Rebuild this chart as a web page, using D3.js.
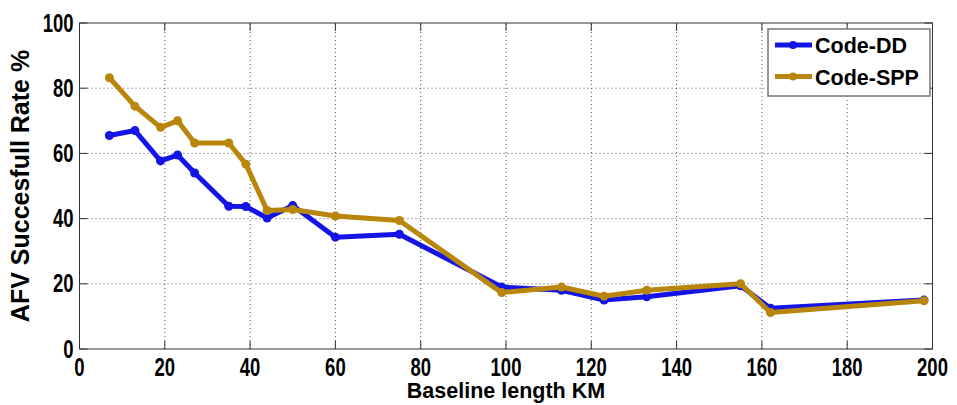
<!DOCTYPE html>
<html>
<head>
<meta charset="utf-8">
<script src="https://cdn.jsdelivr.net/npm/d3@7"></script>
<style>
body { margin: 0; background: #fff; }
svg { display: block; }
.tick-lbl { font-family: "Liberation Sans", Arial, sans-serif; font-weight: bold; font-size: 25px; }
.title { font-family: "Liberation Sans", Arial, sans-serif; font-weight: bold; }
</style>
</head>
<body>
<svg id="chart" width="957" height="405"></svg>
<script>
// values
var baseline = [7, 13, 19, 23, 27, 35, 39, 44, 50, 60, 75, 99, 113, 123, 133, 155, 162, 198];
var codeDD   = [65.5, 67, 57.7, 59.5, 54, 43.8, 43.7, 40.2, 44, 34.3, 35.2, 19, 18, 15, 16, 19.4, 12.5, 15];
var codeSPP  = [83.2, 74.5, 68, 70, 63.2, 63.2, 56.7, 42.5, 42.8, 40.8, 39.4, 17.3, 19, 16.2, 18, 20, 11.2, 14.8];
var xTicks = [0, 20, 40, 60, 80, 100, 120, 140, 160, 180, 200];
var yTicks = [0, 20, 40, 60, 80, 100];
var seriesNames = ["Code-DD", "Code-SPP"];
var colors = ["#1414e6", "#b8860b"];

var svg = d3.select("#chart");
var x = d3.scaleLinear().domain([0, 200]).range([79.5, 932.5]);
var y = d3.scaleLinear().domain([0, 100]).range([349, 23]);

// grid
var grid = svg.append("g");
grid.selectAll(".gx").data(xTicks.slice(1, -1)).enter().append("line")
    .attr("x1", d => x(d)).attr("x2", d => x(d))
    .attr("y1", y(0)).attr("y2", y(100))
    .attr("stroke", "#555").attr("stroke-width", 1).attr("stroke-dasharray", "1,3");
grid.selectAll(".gy").data(yTicks.slice(1, -1)).enter().append("line")
    .attr("y1", d => y(d)).attr("y2", d => y(d))
    .attr("x1", x(0)).attr("x2", x(200))
    .attr("stroke", "#555").attr("stroke-width", 1).attr("stroke-dasharray", "1,3");

// inner ticks on all four sides
var tk = svg.append("g").attr("stroke", "#333").attr("stroke-width", 1);
xTicks.forEach(function (d) {
    tk.append("line").attr("x1", x(d)).attr("x2", x(d)).attr("y1", y(0)).attr("y2", y(0) - 8);
    tk.append("line").attr("x1", x(d)).attr("x2", x(d)).attr("y1", y(100)).attr("y2", y(100) + 8);
});
yTicks.forEach(function (d) {
    tk.append("line").attr("y1", y(d)).attr("y2", y(d)).attr("x1", x(0)).attr("x2", x(0) + 8);
    tk.append("line").attr("y1", y(d)).attr("y2", y(d)).attr("x1", x(200)).attr("x2", x(200) - 8);
});

// frame
svg.append("rect")
    .attr("x", x(0)).attr("y", y(100))
    .attr("width", x(200) - x(0)).attr("height", y(0) - y(100))
    .attr("fill", "none").attr("stroke", "#333").attr("stroke-width", 1);

// tick labels (condensed look)
svg.selectAll(".xl").data(xTicks).enter().append("text")
    .attr("class", "tick-lbl")
    .attr("transform", d => "translate(" + x(d) + "," + (y(0) + 26.5) + ") scale(0.74,1)")
    .attr("text-anchor", "middle")
    .text(d => d);
svg.selectAll(".yl").data(yTicks).enter().append("text")
    .attr("class", "tick-lbl")
    .attr("transform", d => "translate(" + (x(0) - 6) + "," + (y(d) + 8.5) + ") scale(0.74,1)")
    .attr("text-anchor", "end")
    .text(d => d);

// axis titles
svg.append("text").attr("class", "title")
    .attr("x", 506).attr("y", 398)
    .attr("text-anchor", "middle").attr("font-size", 21.5)
    .text("Baseline length KM");
svg.append("text").attr("class", "title")
    .attr("transform", "translate(29,186) rotate(-90)")
    .attr("text-anchor", "middle").attr("font-size", 25)
    .text("AFV Succesfull Rate %");

// series
var series = [codeDD, codeSPP];
var line = d3.line().x((d, i) => x(baseline[i])).y(d => y(d));
series.forEach(function (vals, k) {
    var g = svg.append("g");
    g.append("path").datum(vals)
        .attr("d", line)
        .attr("fill", "none")
        .attr("stroke", colors[k]).attr("stroke-width", 5)
        .attr("stroke-linejoin", "round");
    g.selectAll("circle").data(vals).enter().append("circle")
        .attr("cx", (d, i) => x(baseline[i])).attr("cy", d => y(d))
        .attr("r", 4.5).attr("fill", colors[k]);
});

// legend
var lg = svg.append("g");
lg.append("rect").attr("x", 768).attr("y", 29).attr("width", 162).attr("height", 67)
    .attr("fill", "#fff").attr("stroke", "#777").attr("stroke-width", 1.5);
seriesNames.forEach(function (name, k) {
    var ly = 45 + k * 31.5;
    lg.append("line").attr("x1", 775).attr("x2", 812).attr("y1", ly).attr("y2", ly)
        .attr("stroke", colors[k]).attr("stroke-width", 5);
    lg.append("circle").attr("cx", 793).attr("cy", ly).attr("r", 4).attr("fill", colors[k]);
    lg.append("text").attr("class", "title")
        .attr("x", 815).attr("y", ly + 8)
        .attr("font-size", 21.5)
        .text(name);
});
</script>
</body>
</html>
